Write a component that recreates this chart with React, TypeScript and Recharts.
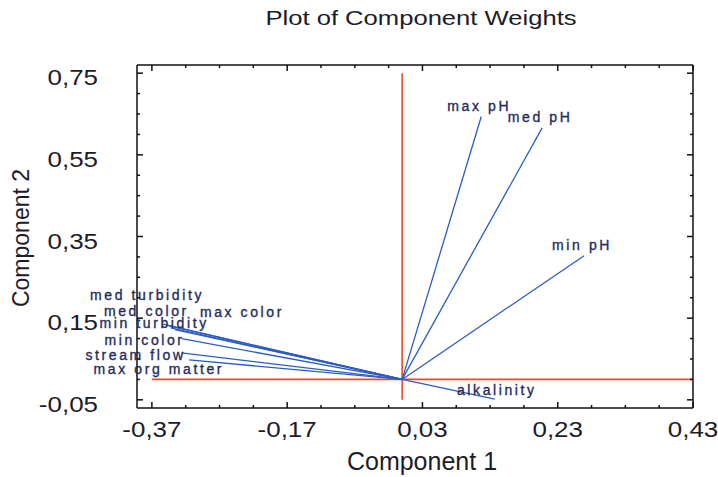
import { ScatterChart, Scatter, XAxis, YAxis, ReferenceLine } from "recharts";

// component weights
const vectorNames = [
  "max pH",
  "med pH",
  "min pH",
  "alkalinity",
  "med turbidity",
  "min turbidity",
  "med color",
  "max color",
  "min color",
  "stream flow",
  "max org matter",
];
const comp1 = [0.117, 0.207, 0.269, 0.137, -0.355, -0.345, -0.342, -0.336, -0.326, -0.326, -0.315];
const comp2 = [0.644, 0.616, 0.303, -0.048, 0.136, 0.131, 0.126, 0.122, 0.1, 0.065, 0.048];

const xTicks = [
  -0.37, -0.32, -0.27, -0.22, -0.17, -0.12, -0.07, -0.02, 0.03, 0.08, 0.13, 0.18, 0.23, 0.28, 0.33, 0.38, 0.43,
];
const xMajorTicks = [-0.37, -0.17, 0.03, 0.23, 0.43];
const yTicks = [
  -0.05, 0.0, 0.05, 0.1, 0.15, 0.2, 0.25, 0.3, 0.35, 0.4, 0.45, 0.5, 0.55, 0.6, 0.65, 0.7, 0.75,
];
const yMajorTicks = [-0.05, 0.15, 0.35, 0.55, 0.75];

const FONT = "'Liberation Sans', Arial, sans-serif";
const BLUE = "#2b5cc4";
const RED = "#ec4a2a";
const TEXT = "#1c1c28";
const LABEL = "#1f2d5c";

// where each vector label sits relative to the tip (pixels)
const labelPlace: Record<string, { dx: number; dy: number; anchor: "start" | "middle" | "end" }> = {
  "max pH": { dx: -2, dy: -10, anchor: "middle" },
  "med pH": { dx: -2, dy: -11, anchor: "middle" },
  "min pH": { dx: -2, dy: -11, anchor: "middle" },
  alkalinity: { dx: 2, dy: -9, anchor: "middle" },
  "med turbidity": { dx: 42, dy: -29, anchor: "end" },
  "min turbidity": { dx: 40, dy: -3, anchor: "end" },
  "med color": { dx: 18, dy: -17, anchor: "end" },
  "max color": { dx: 25, dy: -18, anchor: "start" },
  "min color": { dx: 3, dy: 1, anchor: "end" },
  "stream flow": { dx: 4, dy: 2, anchor: "end" },
  "max org matter": { dx: 35, dy: 9, anchor: "end" },
};

const vectors = vectorNames.map((name, i) => ({
  name,
  points: [
    { x: 0, y: 0 },
    { x: comp1[i], y: comp2[i], label: name },
  ],
}));

const tips = vectorNames.map((name, i) => ({ x: comp1[i], y: comp2[i] }));

function fmt(v: number) {
  return v.toFixed(2).replace(".", ",");
}

function isMajor(v: number, majors: number[]) {
  return majors.some((m) => Math.abs(m - v) < 1e-6);
}

function Nothing() {
  return <g />;
}

function VectorTip(props: any) {
  const { cx, cy, payload } = props;
  if (!payload || !payload.label) return <g />;
  const p = labelPlace[payload.label];
  return (
    <text
      x={cx + p.dx}
      y={cy + p.dy}
      textAnchor={p.anchor}
      dominantBaseline="central"
      fontFamily={FONT}
      fontSize={14}
      letterSpacing={2.6}
      fill={LABEL}
      stroke={LABEL}
      strokeWidth={0.35}
    >
      {payload.label}
    </text>
  );
}

function BottomTick({ x, y, payload }: any) {
  const major = isMajor(payload.value, xMajorTicks);
  return (
    <g>
      <line x1={x} y1={y} x2={x} y2={y - (major ? 6 : 3)} stroke="#111" strokeWidth={1.5} />
      {major && (
        <text
          x={0}
          y={0}
          textAnchor="middle"
          transform={`translate(${x} ${y + 29}) scale(1.18 1)`}
          fontFamily={FONT}
          fontSize={22}
          fill={TEXT}
        >
          {fmt(payload.value)}
        </text>
      )}
    </g>
  );
}

function TopTick({ x, y, payload }: any) {
  const major = isMajor(payload.value, xMajorTicks);
  return <line x1={x} y1={y} x2={x} y2={y + (major ? 6 : 3)} stroke="#111" strokeWidth={1.5} />;
}

function LeftTick({ x, y, payload }: any) {
  const major = isMajor(payload.value, yMajorTicks);
  return (
    <g>
      <line x1={x} y1={y} x2={x + (major ? 6 : 3)} y2={y} stroke="#111" strokeWidth={1.5} />
      {major && (
        <text
          x={0}
          y={0}
          textAnchor="end"
          transform={`translate(${x - 39} ${y + 12}) scale(1.18 1)`}
          fontFamily={FONT}
          fontSize={22}
          fill={TEXT}
        >
          {fmt(payload.value)}
        </text>
      )}
    </g>
  );
}

function RightTick({ x, y, payload }: any) {
  const major = isMajor(payload.value, yMajorTicks);
  return <line x1={x} y1={y} x2={x - (major ? 6 : 3)} y2={y} stroke="#111" strokeWidth={1.5} />;
}

const frameLine = { stroke: "#111", strokeWidth: 1.5 };

export default function App() {
  return (
    <div style={{ position: "absolute", left: 0, top: 0, width: 718, height: 477, background: "#fff" }}>
      <ScatterChart width={718} height={477} margin={{ top: 64, right: 24, bottom: 0, left: 0 }}>
        <XAxis
          xAxisId={0}
          type="number"
          dataKey="x"
          domain={[-0.392, 0.43]}
          ticks={xTicks}
          interval={0}
          height={69}
          tickSize={0}
          tickMargin={0}
          tick={<BottomTick />}
          axisLine={frameLine}
        />
        <XAxis
          xAxisId="top"
          orientation="top"
          type="number"
          dataKey="x"
          domain={[-0.392, 0.43]}
          ticks={xTicks}
          interval={0}
          height={1}
          tickSize={0}
          tickMargin={0}
          tick={<TopTick />}
          axisLine={frameLine}
        />
        <YAxis
          yAxisId={0}
          type="number"
          dataKey="y"
          domain={[-0.07, 0.77]}
          ticks={yTicks}
          interval={0}
          width={137}
          tickSize={0}
          tickMargin={0}
          tick={<LeftTick />}
          axisLine={frameLine}
        />
        <YAxis
          yAxisId="right"
          orientation="right"
          type="number"
          dataKey="y"
          domain={[-0.07, 0.77]}
          ticks={yTicks}
          interval={0}
          width={1}
          tickSize={0}
          tickMargin={0}
          tick={<RightTick />}
          axisLine={frameLine}
        />
        <ReferenceLine
          segment={[
            { x: -0.37, y: 0 },
            { x: 0.43, y: 0 },
          ]}
          stroke={RED}
          strokeWidth={1.6}
        />
        <ReferenceLine
          segment={[
            { x: 0, y: -0.05 },
            { x: 0, y: 0.75 },
          ]}
          stroke={RED}
          strokeWidth={1.6}
        />
        {vectors.map((v) => (
          <Scatter
            key={v.name}
            name={v.name}
            data={v.points}
            line={{ stroke: BLUE, strokeWidth: 1.3 }}
            shape={<VectorTip />}
            isAnimationActive={false}
          />
        ))}
        <Scatter
          xAxisId="top"
          yAxisId="right"
          data={tips}
          shape={<Nothing />}
          isAnimationActive={false}
        />
      </ScatterChart>
      <svg
        width={718}
        height={477}
        style={{ position: "absolute", left: 0, top: 0, pointerEvents: "none" }}
      >
        <text
          x={0}
          y={0}
          textAnchor="middle"
          transform="translate(421 25) scale(1.22 1)"
          fontFamily={FONT}
          fontSize={21}
          fill={TEXT}
        >
          Plot of Component Weights
        </text>
        <text x={422} y={470} textAnchor="middle" fontFamily={FONT} fontSize={25} fill={TEXT}>
          Component 1
        </text>
        <text
          x={0}
          y={0}
          textAnchor="middle"
          transform="translate(29 238) rotate(-90)"
          fontFamily={FONT}
          fontSize={23}
          fill={TEXT}
        >
          Component 2
        </text>
      </svg>
    </div>
  );
}
